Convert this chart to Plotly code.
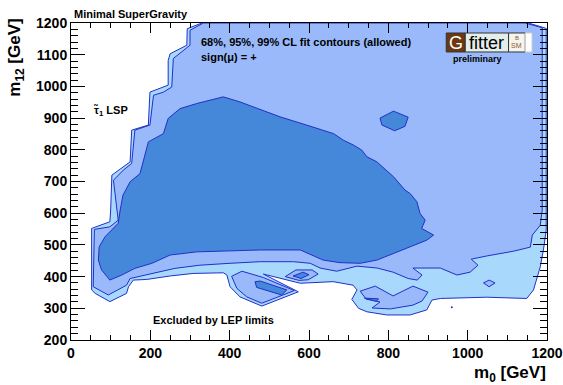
import plotly.graph_objects as go

# ---------------- data (m0, m1/2 in GeV) ----------------
x_ticks = [0, 200, 400, 600, 800, 1000, 1200]
y_ticks = [200, 300, 400, 500, 600, 700, 800, 900, 1000, 1100, 1200]

# 99% CL allowed region (outermost)
cl99_m0 = [330, 1153, 1198, 1198, 1191, 1183, 1166, 1149, 1048, 931,
           910, 897, 855, 796, 746, 725, 708, 721, 711, 661,
           578, 485, 573, 481, 426, 401, 393, 384, 308, 250,
           191, 157, 145, 140, 98, 61, 52, 52, 98, 100,
           103, 149, 153, 195, 199, 224, 245, 245, 250, 292, 293]
cl99_m12 = [1200, 1200, 1183, 547, 484, 431, 358, 331, 335, 331,
            326, 295, 279, 279, 289, 300, 328, 358, 373, 384,
            379, 408, 352, 307, 336, 368, 405, 412, 410, 402,
            391, 389, 368, 347, 321, 347, 358, 552, 573, 610,
            720, 762, 862, 878, 982, 993, 1004, 1082, 1103, 1130, 1182]

# 95% CL allowed region (main)
cl95_m0 = [334, 1145, 1188, 1188, 1183, 1163, 1158, 1115, 1048, 1009,
           1026, 1006, 973, 931, 862, 885, 873, 850, 812, 772,
           721, 670, 628, 603, 561, 477, 401, 325, 262, 187,
           149, 140, 94, 56, 59, 98, 119, 107, 132, 153,
           161, 199, 208, 233, 254, 258, 300, 300]
cl95_m12 = [1200, 1200, 1185, 610, 562, 531, 493, 480, 465, 455,
            436, 414, 405, 427, 427, 405, 389, 394, 414, 427,
            433, 417, 427, 442, 447, 447, 442, 436, 426, 405,
            394, 373, 342, 368, 549, 557, 578, 704, 736, 757,
            862, 878, 972, 982, 998, 1088, 1130, 1177]

# 95% CL small islands
cl95_lobe_m0 = [405, 431, 485, 563, 481, 443, 418]
cl95_lobe_m12 = [401, 417, 397, 356, 316, 336, 363]
cl95_patch_m0 = [540, 567, 608, 623, 598, 575]
cl95_patch_m12 = [400, 421, 421, 408, 390, 388]
cl95_low_m0 = [729, 767, 812, 862, 900, 885, 862, 805, 759, 779, 744]
cl95_low_m12 = [354, 370, 339, 370, 351, 323, 310, 298, 301, 320, 329]
cl95_dia_m0 = [1040, 1054, 1069, 1054]
cl95_dia_m12 = [380, 389, 380, 368]

# 68% CL allowed region (main)
cl68_m0 = [98, 77, 69, 71, 86, 119, 124, 131, 149, 174,
           195, 233, 245, 275, 317, 384, 426, 460, 527, 594,
           662, 687, 712, 733, 746, 771, 813, 842, 855, 872,
           880, 893, 884, 914, 897, 855, 805, 771, 729, 678,
           636, 578, 477, 393, 317, 250, 204, 161, 128]
cl68_m12 = [389, 421, 452, 494, 526, 568, 610, 657, 699, 725,
            825, 851, 899, 930, 946, 967, 951, 935, 904, 878,
            851, 830, 815, 799, 778, 762, 715, 673, 662, 636,
            599, 578, 552, 531, 515, 494, 468, 452, 442, 444,
            452, 484, 484, 481, 478, 468, 442, 426, 405]

# 68% CL small islands
cl68_hex_m0 = [779, 813, 850, 842, 816, 784]
cl68_hex_m12 = [900, 922, 903, 874, 860, 878]
cl68_lobe_m0 = [464, 477, 544, 531, 468]
cl68_lobe_m12 = [384, 386, 358, 342, 366]
cl68_dia_m0 = [560, 585, 600, 580]
cl68_dia_m12 = [402, 414, 406, 394]
cl68_sliver_m0 = [740, 775, 770]
cl68_sliver_m12 = [332, 330, 322]

dot_m0 = [960]
dot_m12 = [303]

# ---------------- styles ----------------
C_LIGHT = "#a8d8fc"
C_MED = "#99b9fa"
C_DARK = "#4587d9"
C_LINE = "#2030c8"
FONT = "Liberation Sans"

fig = go.Figure()


def poly(xs, ys, fill):
    fig.add_trace(go.Scatter(
        x=xs + xs[:1], y=ys + ys[:1], mode="lines", fill="toself",
        fillcolor=fill, line=dict(color=C_LINE, width=1),
        hoverinfo="skip", showlegend=False))


poly(cl99_m0, cl99_m12, C_LIGHT)
poly(cl95_m0, cl95_m12, C_MED)
poly(cl95_lobe_m0, cl95_lobe_m12, C_MED)
poly(cl95_patch_m0, cl95_patch_m12, C_MED)
poly(cl95_low_m0, cl95_low_m12, C_MED)
poly(cl95_dia_m0, cl95_dia_m12, C_MED)
poly(cl68_m0, cl68_m12, C_DARK)
poly(cl68_hex_m0, cl68_hex_m12, C_DARK)
poly(cl68_lobe_m0, cl68_lobe_m12, C_DARK)
poly(cl68_dia_m0, cl68_dia_m12, C_DARK)
poly(cl68_sliver_m0, cl68_sliver_m12, C_DARK)
fig.add_trace(go.Scatter(x=dot_m0, y=dot_m12, mode="markers",
                         marker=dict(color=C_LINE, size=2),
                         hoverinfo="skip", showlegend=False))

# ---------------- layout ----------------
L, R, T, B = 71, 546.7, 22.7, 340.0
W, H = 563, 385


def px(x):
    return (x - L) / (R - L)


def py(y):
    return (B - y) / (B - T)


tickfont = dict(family=FONT, size=14, color="black", weight="bold")
fig.update_layout(
    width=W, height=H,
    margin=dict(l=L, r=W - R, t=T, b=H - B, autoexpand=False),
    plot_bgcolor="white", paper_bgcolor="white",
    showlegend=False,
    xaxis=dict(range=[0, 1200], tickvals=x_ticks, ticktext=[str(v) for v in x_ticks],
               ticks="inside", ticklen=10, tickwidth=1, tickcolor="black",
               showline=True, linecolor="black", linewidth=1, mirror="ticks",
               showgrid=False, zeroline=False, tickfont=tickfont, automargin=False,
               minor=dict(ticks="inside", ticklen=5, dtick=50, tick0=0,
                          tickcolor="black", showgrid=False)),
    yaxis=dict(range=[200, 1200], tickvals=y_ticks, ticktext=[str(v) for v in y_ticks],
               ticks="inside", ticklen=14, tickwidth=1, tickcolor="black",
               showline=True, linecolor="black", linewidth=1, mirror="ticks",
               showgrid=False, zeroline=False, tickfont=tickfont, automargin=False,
               minor=dict(ticks="inside", ticklen=7, dtick=20, tick0=200,
                          tickcolor="black", showgrid=False)),
)


def txt(s, x, y, size=11, xanchor="left", yanchor="middle", color="black",
        bold=True, angle=0):
    fig.add_annotation(text=s, x=px(x), y=py(y), xref="paper", yref="paper",
                       showarrow=False, xanchor=xanchor, yanchor=yanchor,
                       textangle=angle,
                       font=dict(family=FONT, size=size, color=color,
                                 weight="bold" if bold else "normal"))


txt("Minimal SuperGravity", 71.5, 13.3, size=11)
txt("68%, 95%, 99% CL fit contours (allowed)", 198.5, 41.7, size=11)
txt("sign(\u03bc) = +", 198.5, 56.7, size=11)
txt("\u03c4\u0303<sub>1</sub> LSP", 91.5, 111, size=11)
txt("Excluded by LEP limits", 150.5, 320, size=11)
txt("m<sub>12</sub> [GeV]", 16, 57.5, size=17, xanchor="center", angle=-90)
txt("m<sub>0</sub> [GeV]", 548, 374, size=17, xanchor="right")

# G fitter logo
def box(x0, x1, y0, y1, fill, line="#555555"):
    fig.add_shape(type="rect", xref="paper", yref="paper",
                  x0=px(x0), x1=px(x1), y0=py(y1), y1=py(y0),
                  fillcolor=fill, line=dict(color=line, width=1), layer="above")


box(446, 465, 32.7, 51.7, "#6b3812", "#333333")
box(465, 508.3, 32.7, 51.7, "#e3eeea", "#333333")
box(508.3, 525, 32.7, 51.7, "#f6f4ee", "#333333")
box(525, 531.7, 32.7, 51.7, "#ffffff", "#cccccc")
txt("G", 455.5, 42.5, size=18, xanchor="center", color="white", bold=False)
txt("fitter", 486.6, 42.5, size=18, xanchor="center", color="black", bold=False)
txt("B", 516.7, 37.5, size=6, xanchor="center", color="#8a5a2a", bold=False)
txt("SM", 516.7, 45.5, size=7, xanchor="center", color="#8a5a2a", bold=False)
txt("preliminary", 477.5, 58.5, size=9, xanchor="center")

fig.write_html("out.html",
               config={"displayModeBar": False},
               post_script="document.body.style.margin='0';"
                           "document.body.style.overflow='hidden';")
